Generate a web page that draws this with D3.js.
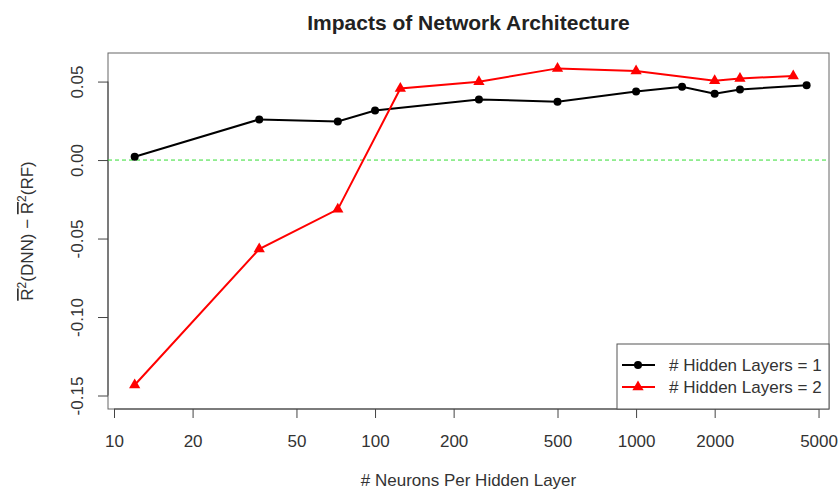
<!DOCTYPE html>
<html>
<head>
<meta charset="utf-8">
<script src="https://cdn.jsdelivr.net/npm/d3@7"></script>
<style>
  body { margin: 0; background: #fff; }
  svg { display: block; font-family: 'Liberation Sans', Arial, sans-serif; }
</style>
</head>
<body>
<div id="chart"></div>
<script>
// data
const neurons1 = [12, 36, 72, 100, 250, 500, 1000, 1500, 2000, 2500, 4500];
const diff1 = [0.0021, 0.0259, 0.0246, 0.0316, 0.0386, 0.0372, 0.0437, 0.0467, 0.0422, 0.045, 0.0476];
const neurons2 = [12, 36, 72, 125, 250, 500, 1000, 2000, 2500, 4000];
const diff2 = [-0.1433, -0.0567, -0.0314, 0.0456, 0.0499, 0.0584, 0.0567, 0.0505, 0.052, 0.0535];
const xTicks = [10, 20, 50, 100, 200, 500, 1000, 2000, 5000];
const yTicks = [-0.15, -0.10, -0.05, 0.00, 0.05];
const legendLabels = ['# Hidden Layers = 1', '# Hidden Layers = 2'];

const W = 840, H = 492;
const box = { left: 108, right: 829, top: 53, bottom: 409 };
const FONT = "'Liberation Sans', Arial, sans-serif";

const svg = d3.select('#chart').append('svg').attr('width', W).attr('height', H);

const x = d3.scaleLog().domain([9.484, 5483]).range([box.left, box.right]);
const y = d3.scaleLinear().domain([-0.1586, 0.0682]).range([box.bottom, box.top]);

const axisColor = '#444';

// plot box
svg.append('rect')
    .attr('x', box.left).attr('y', box.top)
    .attr('width', box.right - box.left).attr('height', box.bottom - box.top)
    .attr('fill', 'none').attr('stroke', '#666').attr('stroke-width', 1);

// x axis
const xAxis = svg.append('g').attr('transform', `translate(0,${box.bottom})`)
    .call(d3.axisBottom(x).tickValues(xTicks).tickFormat(d3.format('d')).tickSize(9).tickSizeOuter(0).tickPadding(17));
xAxis.select('.domain').attr('d', `M${x(xTicks[0])},0H${x(xTicks[xTicks.length - 1])}`).attr('stroke', axisColor);
xAxis.selectAll('.tick line').attr('stroke', axisColor);
xAxis.selectAll('.tick text').attr('font-size', 17).attr('fill', '#333').attr('font-family', FONT);

// y axis (R-style hyphen minus)
const yFmt = d => d3.format('.2f')(d).replace('\u2212', '-');
const yAxis = svg.append('g').attr('transform', `translate(${box.left},0)`)
    .call(d3.axisLeft(y).tickValues(yTicks).tickFormat(yFmt).tickSize(10).tickSizeOuter(0));
yAxis.select('.domain').attr('d', `M0,${y(yTicks[0])}V${y(yTicks[yTicks.length - 1])}`).attr('stroke', axisColor);
yAxis.selectAll('.tick line').attr('stroke', axisColor);
yAxis.selectAll('.tick text')
    .attr('font-size', 17).attr('fill', '#333').attr('font-family', FONT)
    .attr('text-anchor', 'middle')
    .attr('x', 0).attr('y', 0).attr('dy', '0.35em')
    .attr('transform', 'translate(-31,0) rotate(-90)');

// zero reference line
svg.append('line')
    .attr('x1', box.left).attr('x2', box.right)
    .attr('y1', y(0)).attr('y2', y(0))
    .attr('stroke', '#33dd33').attr('stroke-width', 1).attr('stroke-dasharray', '4,3');

const line = d3.line().x(d => x(d[0])).y(d => y(d[1]));
const s1 = neurons1.map((n, i) => [n, diff1[i]]);
const s2 = neurons2.map((n, i) => [n, diff2[i]]);

svg.append('path').datum(s1).attr('d', line)
    .attr('fill', 'none').attr('stroke', '#000').attr('stroke-width', 2);
svg.append('path').datum(s2).attr('d', line)
    .attr('fill', 'none').attr('stroke', '#ff0000').attr('stroke-width', 2);

const tri = d3.symbol().type(d3.symbolTriangle).size(55);

svg.selectAll('.pt1').data(s1).join('circle')
    .attr('cx', d => x(d[0])).attr('cy', d => y(d[1])).attr('r', 4).attr('fill', '#000');
svg.selectAll('.pt2').data(s2).join('path')
    .attr('d', tri).attr('transform', d => `translate(${x(d[0])},${y(d[1])})`).attr('fill', '#ff0000');

// legend
const lg = { left: 617, top: 344 };
svg.append('rect')
    .attr('x', lg.left).attr('y', lg.top)
    .attr('width', box.right - lg.left).attr('height', box.bottom - lg.top)
    .attr('fill', '#fff').attr('stroke', '#555');
const colors = ['#000', '#ff0000'];
legendLabels.forEach((lab, i) => {
    const ly = lg.top + 21 + i * 22;
    svg.append('line').attr('x1', lg.left + 5).attr('x2', lg.left + 38)
        .attr('y1', ly).attr('y2', ly).attr('stroke', colors[i]).attr('stroke-width', 2);
    if (i === 0) {
        svg.append('circle').attr('cx', lg.left + 21).attr('cy', ly).attr('r', 4).attr('fill', colors[i]);
    } else {
        svg.append('path').attr('d', tri).attr('transform', `translate(${lg.left + 21},${ly})`).attr('fill', colors[i]);
    }
    svg.append('text').attr('x', lg.left + 52).attr('y', ly + 6)
        .attr('font-size', 17).attr('fill', '#333').text(lab);
});

// title
const cx = (box.left + box.right) / 2;
svg.append('text').attr('x', cx).attr('y', 30)
    .attr('text-anchor', 'middle').attr('font-size', 21).attr('font-weight', 'bold')
    .attr('fill', '#222').text('Impacts of Network Architecture');

// x label
svg.append('text').attr('x', cx).attr('y', 486)
    .attr('text-anchor', 'middle').attr('font-size', 17).attr('fill', '#333')
    .text('# Neurons Per Hidden Layer');

// y label with overlined R
const yl = svg.append('text')
    .attr('transform', `translate(33,${(box.top + box.bottom) / 2}) rotate(-90)`)
    .attr('text-anchor', 'middle').attr('font-size', 17).attr('fill', '#333');
yl.append('tspan').style('text-decoration', 'overline').text('R');
yl.append('tspan').attr('dy', -7).attr('font-size', 12).text('2');
yl.append('tspan').attr('dy', 7).text('(DNN) \u2212 ');
yl.append('tspan').style('text-decoration', 'overline').text('R');
yl.append('tspan').attr('dy', -7).attr('font-size', 12).text('2');
yl.append('tspan').attr('dy', 7).text('(RF)');
</script>
</body>
</html>
